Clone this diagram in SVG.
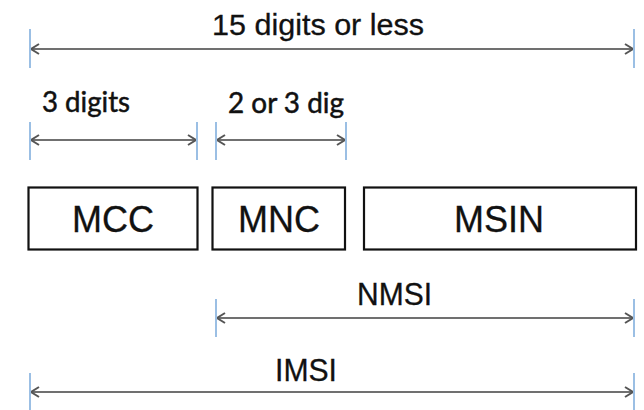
<svg xmlns="http://www.w3.org/2000/svg" width="644" height="410" viewBox="0 0 644 410">
<style>
.bg{fill:#ffffff}
.box{fill:#ffffff;stroke:#111111;stroke-width:2.2}
.arial{font-family:"Liberation Sans",Arial,sans-serif;fill:#111111;stroke:#111111;stroke-width:0.3}
.cal{font-family:Lato,"Open Sans",sans-serif;fill:#111111;stroke:#111111;stroke-width:0.5}
.dim{stroke:#707070;stroke-width:2.2;fill:none}
.tick{stroke:#9bbfe4;stroke-width:2;fill:none}
</style>
<defs>
<marker id="ah" markerUnits="userSpaceOnUse" markerWidth="14" markerHeight="14" viewBox="-10 -7 12 14" refX="0" refY="0" orient="auto-start-reverse">
<path d="M -8 -5 L 0 0 L -8 5" stroke="#555555" stroke-width="2" fill="none" stroke-linejoin="miter"/>
</marker>
</defs>
<rect class="bg" x="0" y="0" width="644" height="410"/>
<g id="connectors">
<line class="dim" x1="31" y1="49" x2="633" y2="49" marker-start="url(#ah)" marker-end="url(#ah)"/>
<line class="dim" x1="31" y1="140" x2="196" y2="140" marker-start="url(#ah)" marker-end="url(#ah)"/>
<line class="dim" x1="217" y1="140" x2="345" y2="140" marker-start="url(#ah)" marker-end="url(#ah)"/>
<line class="dim" x1="217" y1="318" x2="633" y2="318" marker-start="url(#ah)" marker-end="url(#ah)"/>
<line class="dim" x1="31" y1="392" x2="633" y2="392" marker-start="url(#ah)" marker-end="url(#ah)"/>
<g id="ticks">
<line class="tick" x1="30" y1="29" x2="30" y2="68"/>
<line class="tick" x1="634" y1="29" x2="634" y2="68"/>
<line class="tick" x1="30" y1="122" x2="30" y2="160"/>
<line class="tick" x1="197" y1="122" x2="197" y2="160"/>
<line class="tick" x1="216" y1="122" x2="216" y2="160"/>
<line class="tick" x1="346" y1="122" x2="346" y2="160"/>
<line class="tick" x1="216" y1="299" x2="216" y2="337"/>
<line class="tick" x1="634" y1="299" x2="634" y2="337"/>
<line class="tick" x1="30" y1="373" x2="30" y2="412"/>
<line class="tick" x1="634" y1="373" x2="634" y2="412"/>
</g>
</g>
<g id="label-total">
<text class="arial" x="212" y="35" font-size="30" textLength="212" lengthAdjust="spacingAndGlyphs">15 digits or less</text>
</g>
<g id="label-3digits">
<text class="cal" x="42" y="112" font-size="28" textLength="88" lengthAdjust="spacingAndGlyphs">3 digits</text>
</g>
<g id="label-2or3">
<text class="cal" x="228" y="113" font-size="28" textLength="116" lengthAdjust="spacingAndGlyphs">2 or 3 dig</text>
</g>
<g id="MCC">
<rect class="box" x="28.5" y="187.5" width="169" height="62"/>
<text class="arial" x="113" y="232" font-size="36" text-anchor="middle">MCC</text>
</g>
<g id="MNC">
<rect class="box" x="212.5" y="187.5" width="132.5" height="62"/>
<text class="arial" x="279" y="232" font-size="36" text-anchor="middle">MNC</text>
</g>
<g id="MSIN">
<rect class="box" x="364" y="187.5" width="272" height="62"/>
<text class="arial" x="499" y="232" font-size="36" text-anchor="middle">MSIN</text>
</g>
<g id="label-NMSI">
<text class="arial" x="357" y="305" font-size="31" textLength="75" lengthAdjust="spacingAndGlyphs">NMSI</text>
</g>
<g id="label-IMSI">
<text class="arial" x="275" y="381" font-size="31" textLength="62" lengthAdjust="spacingAndGlyphs">IMSI</text>
</g>
</svg>
